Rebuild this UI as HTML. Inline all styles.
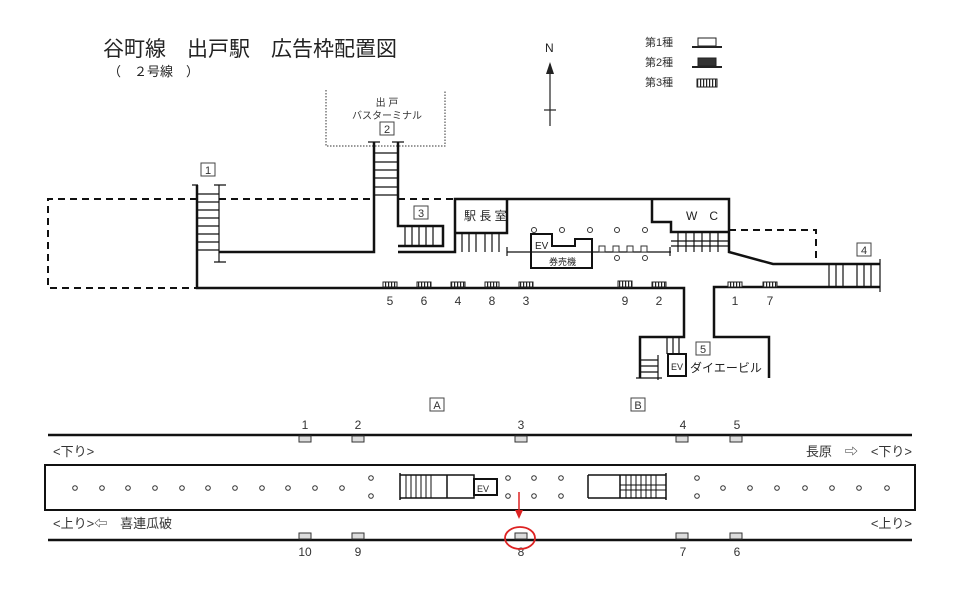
<!DOCTYPE html>
<html><head><meta charset="utf-8"><style>
body{margin:0;background:#fff}
svg{display:block;font-family:"Liberation Sans","Noto Sans CJK JP",sans-serif}
</style></head><body>
<svg width="960" height="605" viewBox="0 0 960 605" xmlns="http://www.w3.org/2000/svg">
<defs><pattern id="st" width="3" height="10" patternUnits="userSpaceOnUse"><rect width="3" height="10" fill="#fff"/><rect x="1" width="1.2" height="10" fill="#222"/></pattern></defs>
<rect width="960" height="605" fill="#fff"/>
<text x="103" y="56" font-size="21" fill="#222">谷町線　出戸駅　広告枠配置図</text>
<text x="108" y="76" font-size="13" fill="#222">（　２号線　）</text>
<text x="545" y="52" font-size="12" fill="#222">N</text>
<line x1="550" y1="64" x2="550" y2="126" stroke="#222" stroke-width="1.2"/>
<polygon points="550,62 546,74 554,74" fill="#222"/>
<line x1="544" y1="110" x2="556" y2="110" stroke="#222" stroke-width="1.2"/>
<g font-size="11" fill="#333">
<text x="645" y="46">第1種</text><text x="645" y="66">第2種</text><text x="645" y="86">第3種</text></g>
<rect x="698" y="38" width="18" height="8" fill="#fff" stroke="#222"/><line x1="692" y1="47" x2="722" y2="47" stroke="#222" stroke-width="2"/>
<rect x="698" y="58" width="18" height="8" fill="#333" stroke="#222"/><line x1="692" y1="67" x2="722" y2="67" stroke="#222" stroke-width="2"/>
<rect x="697" y="79" width="20" height="8" fill="url(#st)" stroke="#222"/>

<polyline points="326,90 326,146 445,146 445,90" fill="none" stroke="#333" stroke-dasharray="1.5,1.5"/>
<g font-size="10" fill="#333" text-anchor="middle"><text x="387" y="106">出 戸</text><text x="387" y="119">バスターミナル</text></g>

<g fill="none" stroke="#111" stroke-width="2.5">
<path d="M197,199 H48 V288 H197" stroke-dasharray="7,5" stroke-width="2"/>
<path d="M219,199 H374 M398,199 H455" stroke-dasharray="7,5" stroke-width="2"/>
<path d="M729,230 H816 V264" stroke-dasharray="7,5" stroke-width="2"/>
<path d="M197,185 V288 H684 V337 H640 V378"/>
<path d="M880,287 H714 V337 H769 V378"/>
<path d="M219,252 H374 V142"/>
<path d="M398,142 V226 H443 V246 H398"/>
<path d="M398,252 H455 V199 H729 V252 L773,264 H880"/>
<path d="M455,233 H507 V199"/>
<path d="M652,199 V222 H671 V232 H729"/>
<path d="M531,253 V234 H552 V246 H575 V239 H592 V268 H531 Z" stroke-width="2"/>
<path d="M668,376 V354 H686 V376 Z" stroke-width="2"/>
</g>
<g stroke="#111" stroke-width="1.2" fill="none">
<path d="M192,185 H198 M214,185 H226 M219,185 V262 M214,262 H226"/>
<path d="M197,194 H219 M197,202 H219 M197,210 H219 M197,218 H219 M197,226 H219 M197,234 H219 M197,242 H219 M197,250 H219"/>
<path d="M368,142 H380 M392,142 H404"/>
<path d="M374,153 H398 M374,162 H398 M374,170 H398 M374,178 H398 M374,187 H398 M374,195 H398"/>
<path d="M405,227 V246 M412,227 V246 M419,227 V246 M426,227 V246 M433,227 V246"/>
<path d="M462,233 V252 M469,233 V252 M476,233 V252 M485,233 V252 M492,233 V252 M499,233 V252"/>
<path d="M507,252 H671 M507,247 V256 M670,247 V256"/>
<path d="M678,232 V252 M686,232 V252 M694,232 V252 M702,232 V252 M710,232 V252 M718,232 V252 M671,241 H729 M671,246 H729"/>
<path d="M829,264 V287 M836,264 V287 M843,264 V287 M857,264 V287 M864,264 V287 M871,264 V287 M880,259 V292"/>
<path d="M667,337 V354 M673,337 V354 M679,337 V354"/>
<path d="M640,360 H658 M640,366 H658 M640,372 H658 M658,355 V380 M636,378 H662"/>
</g>
<g fill="#fff" stroke="#333" stroke-width="1">
<circle cx="534" cy="230" r="2.5"/><circle cx="562" cy="230" r="2.5"/><circle cx="590" cy="230" r="2.5"/><circle cx="617" cy="230" r="2.5"/><circle cx="645" cy="230" r="2.5"/>
<circle cx="617" cy="258" r="2.5"/><circle cx="645" cy="258" r="2.5"/>
<rect x="599" y="246" width="6" height="6"/><rect x="613" y="246" width="6" height="6"/><rect x="627" y="246" width="6" height="6"/><rect x="641" y="246" width="6" height="6"/>
</g>
<g font-size="10" fill="#222"><text x="535" y="249">EV</text><text x="549" y="265" font-size="9">券売機</text>
<text x="671" y="370" font-size="9">EV</text>
<text x="464" y="220" font-size="12">駅 長 室</text><text x="686" y="220" font-size="12">W　C</text>
<text x="690" y="372" font-size="12">ダイエービル</text></g>
<g font-size="11" fill="#333" text-anchor="middle">
<rect x="201" y="163" width="14" height="13" fill="#fff" stroke="#444"/><text x="208" y="174">1</text>
<rect x="380" y="122" width="14" height="13" fill="#fff" stroke="#444"/><text x="387" y="133">2</text>
<rect x="414" y="206" width="14" height="13" fill="#fff" stroke="#444"/><text x="421" y="217">3</text>
<rect x="857" y="243" width="14" height="13" fill="#fff" stroke="#444"/><text x="864" y="254">4</text>
<rect x="696" y="342" width="14" height="13" fill="#fff" stroke="#444"/><text x="703" y="353">5</text>
<rect x="430" y="398" width="14" height="13" fill="#fff" stroke="#444"/><text x="437" y="409">A</text>
<rect x="631" y="398" width="14" height="13" fill="#fff" stroke="#444"/><text x="638" y="409">B</text>
</g>
<g stroke="#222" fill="url(#st)" stroke-width="1">
<rect x="383" y="282" width="14" height="5"/><rect x="417" y="282" width="14" height="5"/><rect x="451" y="282" width="14" height="5"/><rect x="485" y="282" width="14" height="5"/><rect x="519" y="282" width="14" height="5"/><rect x="618" y="281" width="14" height="6"/><rect x="652" y="282" width="14" height="5"/><rect x="728" y="282" width="14" height="5"/><rect x="763" y="282" width="14" height="5"/>
</g>
<g font-size="12" fill="#333" text-anchor="middle">
<text x="390" y="305">5</text><text x="424" y="305">6</text><text x="458" y="305">4</text><text x="492" y="305">8</text><text x="526" y="305">3</text><text x="625" y="305">9</text><text x="659" y="305">2</text><text x="735" y="305">1</text><text x="770" y="305">7</text>
</g>

<line x1="48" y1="435" x2="912" y2="435" stroke="#111" stroke-width="2.5"/>
<line x1="48" y1="540" x2="912" y2="540" stroke="#111" stroke-width="2.5"/>
<g fill="#ddd" stroke="#333" stroke-width="1">
<rect x="299" y="436" width="12" height="6"/><rect x="352" y="436" width="12" height="6"/><rect x="515" y="436" width="12" height="6"/><rect x="676" y="436" width="12" height="6"/><rect x="730" y="436" width="12" height="6"/>
<rect x="299" y="533" width="12" height="6"/><rect x="352" y="533" width="12" height="6"/><rect x="515" y="533" width="12" height="6"/><rect x="676" y="533" width="12" height="6"/><rect x="730" y="533" width="12" height="6"/>
</g>
<g font-size="12" fill="#333" text-anchor="middle">
<text x="305" y="429">1</text><text x="358" y="429">2</text><text x="521" y="429">3</text><text x="683" y="429">4</text><text x="737" y="429">5</text>
<text x="305" y="556">10</text><text x="358" y="556">9</text><text x="521" y="556">8</text><text x="683" y="556">7</text><text x="737" y="556">6</text>
</g>
<g font-size="13" fill="#333">
<text x="53" y="456">&lt;下り&gt;</text>
<text x="912" y="456" text-anchor="end">長原　⇨　&lt;下り&gt;</text>
<text x="53" y="528">&lt;上り&gt;⇦　喜連瓜破</text>
<text x="912" y="528" text-anchor="end">&lt;上り&gt;</text>
</g>
<rect x="45" y="465" width="870" height="45" fill="none" stroke="#111" stroke-width="2"/>
<g fill="#fff" stroke="#333" stroke-width="1">
<circle cx="75" cy="488" r="2.3"/><circle cx="102" cy="488" r="2.3"/><circle cx="128" cy="488" r="2.3"/><circle cx="155" cy="488" r="2.3"/><circle cx="182" cy="488" r="2.3"/><circle cx="208" cy="488" r="2.3"/><circle cx="235" cy="488" r="2.3"/><circle cx="262" cy="488" r="2.3"/><circle cx="288" cy="488" r="2.3"/><circle cx="315" cy="488" r="2.3"/><circle cx="342" cy="488" r="2.3"/>
<circle cx="371" cy="478" r="2.3"/><circle cx="371" cy="496" r="2.3"/>
<circle cx="508" cy="478" r="2.3"/><circle cx="534" cy="478" r="2.3"/><circle cx="561" cy="478" r="2.3"/>
<circle cx="508" cy="496" r="2.3"/><circle cx="534" cy="496" r="2.3"/><circle cx="561" cy="496" r="2.3"/>
<circle cx="697" cy="478" r="2.3"/><circle cx="697" cy="496" r="2.3"/>
<circle cx="723" cy="488" r="2.3"/><circle cx="750" cy="488" r="2.3"/><circle cx="777" cy="488" r="2.3"/><circle cx="805" cy="488" r="2.3"/><circle cx="832" cy="488" r="2.3"/><circle cx="859" cy="488" r="2.3"/><circle cx="887" cy="488" r="2.3"/>
</g>
<g fill="none" stroke="#111" stroke-width="1.5">
<path d="M400,473 V500 M400,475 H474 V498 H400 M447,475 V498"/>
<rect x="474" y="479" width="23" height="16" stroke-width="2"/>
<path d="M406,475 V498 M411,475 V498 M416,475 V498 M421,475 V498 M426,475 V498 M431,475 V498" stroke-width="1"/>
<path d="M666,473 V500 M588,475 H666 M588,498 H666 M588,475 V498 M620,475 V498"/>
<path d="M626,475 V498 M631,475 V498 M636,475 V498 M641,475 V498 M646,475 V498 M651,475 V498 M656,475 V498 M620,485 H666 M620,490 H666" stroke-width="1"/>
</g>
<text x="477" y="492" font-size="9" fill="#222">EV</text>
<line x1="519" y1="492" x2="519" y2="514" stroke="#d22" stroke-width="1.5"/>
<polygon points="519,519 515,510 523,510" fill="#d22"/>
<ellipse cx="520" cy="538" rx="15" ry="11" fill="none" stroke="#d22" stroke-width="1.8"/>
</svg>
</body></html>
